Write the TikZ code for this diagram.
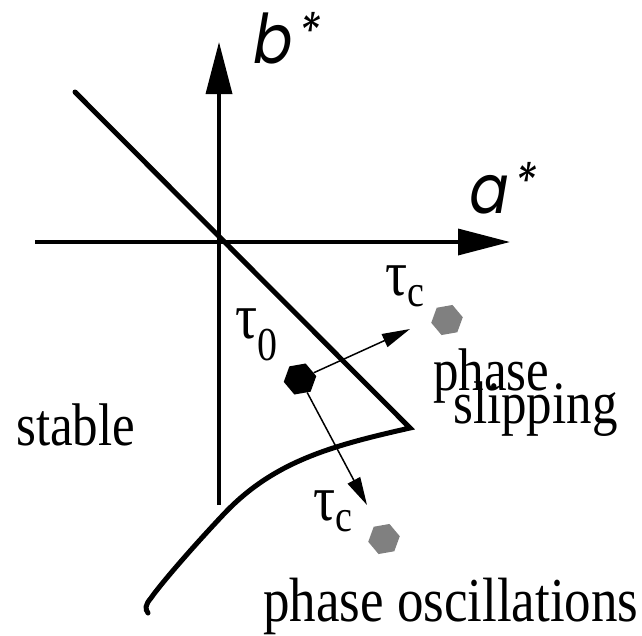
\documentclass[tikz,border=0pt]{standalone}
\usepackage{fontspec}
\usepackage{graphicx}
\usepackage{tikz}
\usetikzlibrary{shapes.geometric, arrows.meta}
\setmainfont{Liberation Serif}
\newfontfamily\axfont[FakeSlant=0.2]{Poppins}
\definecolor{cgrey}{HTML}{808080}
\newcommand{\tall}[1]{\scalebox{1}[1.18]{#1}}
\newcommand{\tausub}[3]{\tall{{\fontsize{55}{55}\selectfont τ}\raisebox{-#2}{\fontsize{#3}{#3}\selectfont #1}}}

\begin{document}
\begin{tikzpicture}[x=1pt, y=-1pt,
  axis/.style={line width=3.5pt, -{Triangle[length=52pt, width=26pt]}},
  border/.style={line width=5pt},
  arr/.style={line width=1.5pt, -{Triangle[length=28pt, width=14pt]}},
  hexa/.style={regular polygon, regular polygon sides=6, rotate=10,
               fill=#1, inner sep=0pt, minimum size=33pt},
  lbl/.style={anchor=base west, inner sep=0pt,
              font=\fontsize{51}{51}\selectfont},
  axlbl/.style={anchor=base west, inner sep=0pt,
                font=\axfont\fontsize{58}{58}\selectfont}
]
\useasboundingbox (0,0) rectangle (642,635);

%% Axes
\coordinate (xl) at (35,242);
\coordinate (xr) at (510,242);
\coordinate (yb) at (219,505);
\coordinate (yt) at (219,42);
\draw[axis] (xl) -- (xr);
\draw[axis] (yb) -- (yt);
\node[axlbl] (bstar) at (250,63)
  {\tall{b\hspace{7pt}\raisebox{11pt}{\fontsize{44}{44}\selectfont *}}};
\node[axlbl] (astar) at (466,213)
  {\tall{a\hspace{7pt}\raisebox{11pt}{\fontsize{44}{44}\selectfont *}}};

%% Stability borders
\coordinate (dtop) at (75,92);
\coordinate (tip)  at (410,428);
\coordinate (cend) at (148,613);
\draw[border, line cap=round, line join=miter] (dtop) -- (tip)
  .. controls (330,446) and (272,462) .. (222,516)
  .. controls (190,550) and (160,585) .. (151,598)
  .. controls (145,605) and (145,609) .. (cend);

%% Operating points
\node[hexa=black] (t0pt) at (300,379) {};
\node[hexa=cgrey, minimum size=32pt] (tc1pt) at (447,320) {};
\node[hexa=cgrey, minimum size=32pt] (tc2pt) at (384,539) {};
\coordinate (a1) at (410,329);
\coordinate (a2) at (367,505);
\draw[arr] (t0pt) -- (a1);
\draw[arr] (t0pt) -- (a2);

%% Labels
\node[lbl] (t0)  at (235,338) {\tausub{0}{19pt}{40}};
\node[lbl] (tc1) at (385,295) {\tausub{c}{10pt}{38}};
\node[lbl] (tc2) at (313,520) {\tausub{c}{10pt}{38}};
\node[lbl] (stab) at (16,445)  {\tall{stable}};
\node[lbl] (ps1)  at (433,390) {\tall{phase}};
\node[lbl] (ps2)  at (453,423) {\tall{slipping}};
\node[lbl, font=\fontsize{53}{53}\selectfont] (osc) at (263,621)
  {\tall{phase oscillations}};

\end{tikzpicture}
\end{document}
